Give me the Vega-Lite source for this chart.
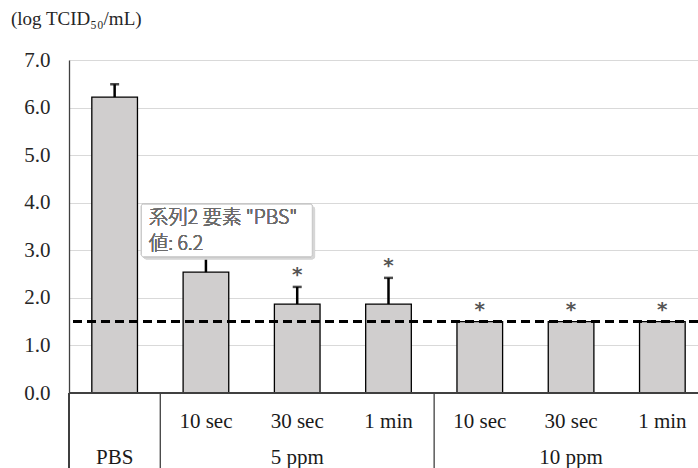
{
  "$schema": "https://vega.github.io/schema/vega-lite/v6.json",
  "autosize": "none",
  "width": 629,
  "height": 333,
  "padding": {"left": 69, "top": 60, "right": 0, "bottom": 75},
  "background": "white",
  "config": {"view": {"stroke": null}, "axis": {"labelFont": "Liberation Serif", "labelFontSize": 21}},
  "title": {"text": "(log TCID₅₀/mL)", "anchor": "start", "frame": "group", "dx": -58, "offset": 20, "font": "Liberation Serif", "fontSize": 19, "fontWeight": "normal", "color": "#262626"},
  "datasets": {
    "main": [
      {"cat": "PBS", "time": "", "mean": 6.22, "upper": 6.49, "star": ""},
      {"cat": "5ppm 10 sec", "time": "10 sec", "mean": 2.54, "upper": 2.95, "star": ""},
      {"cat": "5ppm 30 sec", "time": "30 sec", "mean": 1.87, "upper": 2.23, "star": "*"},
      {"cat": "5ppm 1 min", "time": "1 min", "mean": 1.87, "upper": 2.42, "star": "*"},
      {"cat": "10ppm 10 sec", "time": "10 sec", "mean": 1.5, "upper": 1.5, "star": "*"},
      {"cat": "10ppm 30 sec", "time": "30 sec", "mean": 1.5, "upper": 1.5, "star": "*"},
      {"cat": "10ppm 1 min", "time": "1 min", "mean": 1.5, "upper": 1.5, "star": "*"}
    ],
    "groups": [
      {"cat": "PBS", "label": "PBS"},
      {"cat": "5ppm 30 sec", "label": "5 ppm"},
      {"cat": "10ppm 30 sec", "label": "10 ppm"}
    ],
    "seps": [
      {"cat": "PBS"},
      {"cat": "5ppm 1 min"}
    ]
  },
  "data": {"name": "main"},
  "layer": [
    {
      "mark": {"type": "bar", "fill": "#d0cece", "stroke": "#000000", "strokeWidth": 1.3},
      "encoding": {
        "x": {"field": "cat", "type": "nominal", "sort": null,
              "scale": {"domain": ["PBS", "5ppm 10 sec", "5ppm 30 sec", "5ppm 1 min", "10ppm 10 sec", "10ppm 30 sec", "10ppm 1 min"], "range": [0, 639], "paddingInner": 0.5, "paddingOuter": 0.25},
              "axis": null},
        "y": {"field": "mean", "type": "quantitative",
              "scale": {"domain": [0, 7], "nice": false, "zero": true},
              "axis": {"title": null, "values": [0, 1, 2, 3, 4, 5, 6, 7], "format": ".1f", "grid": true, "gridColor": "#d9d9d9", "gridWidth": 1, "domain": true, "domainColor": "#404040", "domainWidth": 1.3, "ticks": false, "labelPadding": 19, "labelFont": "Liberation Serif", "labelFontSize": 21, "labelColor": "#262626"}}
      }
    },
    {
      "mark": {"type": "rule", "color": "#000000", "strokeWidth": 2.5},
      "encoding": {
        "x": {"field": "cat", "type": "nominal"},
        "y": {"field": "mean", "type": "quantitative"},
        "y2": {"field": "upper"}
      }
    },
    {
      "mark": {"type": "tick", "color": "#000000", "thickness": 2.5, "size": 9, "orient": "horizontal"},
      "transform": [{"filter": "datum.upper > datum.mean"}],
      "encoding": {
        "x": {"field": "cat", "type": "nominal"},
        "y": {"field": "upper", "type": "quantitative"}
      }
    },
    {
      "mark": {"type": "text", "color": "#555555", "font": "DejaVu Sans", "fontWeight": "bold", "fontSize": 20, "dy": -12, "baseline": "middle"},
      "transform": [{"filter": "datum.star != ''"}],
      "encoding": {
        "x": {"field": "cat", "type": "nominal"},
        "y": {"field": "upper", "type": "quantitative"},
        "text": {"field": "star"}
      }
    },
    {
      "mark": {"type": "rule", "color": "#000000", "strokeWidth": 2.5, "strokeDash": [9, 5]},
      "encoding": {"y": {"datum": 1.5}}
    },
    {
      "mark": {"type": "rule", "color": "#404040", "strokeWidth": 1.5},
      "encoding": {"y": {"datum": 0}}
    },
    {
      "mark": {"type": "text", "font": "Liberation Serif", "fontSize": 21, "color": "#1a1a1a", "baseline": "middle"},
      "transform": [{"filter": "datum.time != ''"}],
      "encoding": {
        "x": {"field": "cat", "type": "nominal"},
        "y": {"datum": -0.6},
        "text": {"field": "time"}
      }
    },
    {
      "data": {"name": "groups"},
      "mark": {"type": "text", "font": "Liberation Serif", "fontSize": 21, "color": "#1a1a1a", "baseline": "middle"},
      "encoding": {
        "x": {"field": "cat", "type": "nominal"},
        "y": {"datum": -1.37},
        "text": {"field": "label"}
      }
    },
    {
      "data": {"name": "seps"},
      "mark": {"type": "rule", "color": "#404040", "strokeWidth": 1.3},
      "encoding": {
        "x": {"field": "cat", "type": "nominal", "bandPosition": 1.5},
        "y": {"datum": 0},
        "y2": {"datum": -1.8}
      }
    },
    {
      "mark": {"type": "rule", "color": "#404040", "strokeWidth": 1.3},
      "encoding": {
        "x": {"datum": "PBS", "bandPosition": -0.5},
        "y": {"datum": 0},
        "y2": {"datum": -1.8}
      }
    },
    {
      "mark": {"type": "rect", "fill": "#d6d6d6", "opacity": 0.8, "cornerRadius": 3},
      "encoding": {
        "x": {"datum": "PBS", "bandPosition": 1.13},
        "x2": {"datum": "5ppm 30 sec", "bandPosition": 0.89},
        "y": {"datum": 3.92},
        "y2": {"datum": 2.81}
      }
    },
    {
      "mark": {"type": "rect", "fill": "#ffffff", "stroke": "#c8c8c8", "strokeWidth": 1, "cornerRadius": 2},
      "encoding": {
        "x": {"datum": "PBS", "bandPosition": 1.087},
        "x2": {"datum": "5ppm 30 sec", "bandPosition": 0.83},
        "y": {"datum": 3.97},
        "y2": {"datum": 2.865}
      }
    },
    {
      "mark": {"type": "text", "font": "Noto Sans CJK JP", "fontWeight": 300, "fontSize": 19.5, "color": "#6b6b6b", "align": "left", "baseline": "middle"},
      "encoding": {
        "x": {"datum": "PBS", "bandPosition": 1.246},
        "y": {"datum": 3.68},
        "text": {"value": "系列2 要素 \"PBS\""}
      }
    },
    {
      "mark": {"type": "text", "font": "Noto Sans CJK JP", "fontWeight": 300, "fontSize": 19.5, "color": "#6b6b6b", "align": "left", "baseline": "middle"},
      "encoding": {
        "x": {"datum": "PBS", "bandPosition": 1.246},
        "y": {"datum": 3.13},
        "text": {"value": "値: 6.2"}
      }
    }
  ]
}
